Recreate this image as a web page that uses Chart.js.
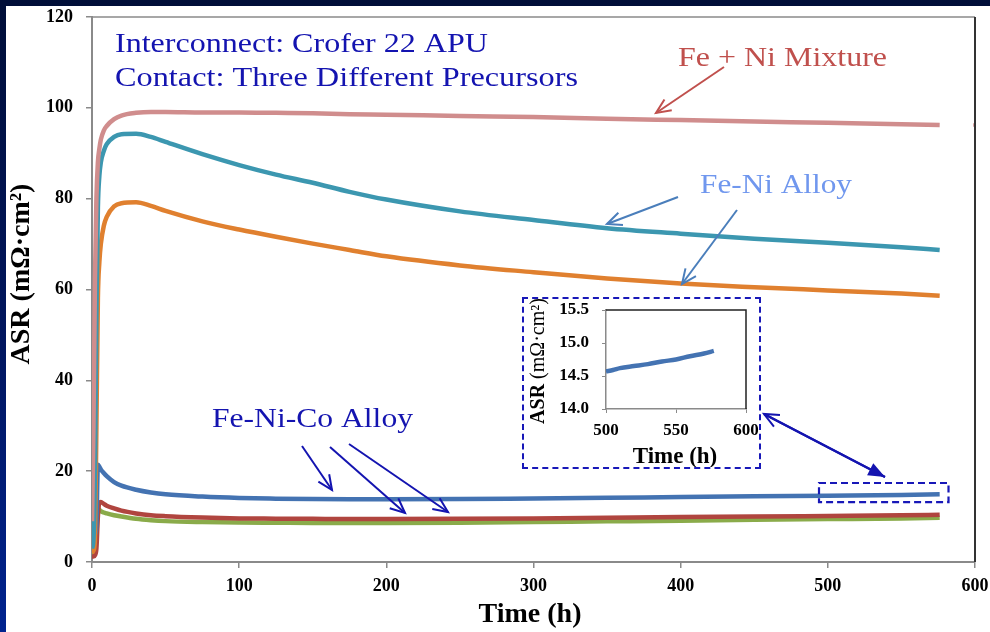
<!DOCTYPE html>
<html>
<head>
<meta charset="utf-8">
<title>ASR vs Time</title>
<script src="https://cdn.jsdelivr.net/npm/chart.js@4.4.1/dist/chart.umd.min.js"></script>
<style>
	html, body { margin: 0; padding: 0; }
	body {
		width: 990px; height: 632px; overflow: hidden; position: relative;
		background: linear-gradient(180deg, #000e38 0%, #001660 55%, #00238f 100%);
	}
	#panel { position: absolute; left: 6px; top: 6px; width: 984px; height: 626px; background: #fff; }
	#main { position: absolute; left: 0; top: 0; }
	#insetBox {
		position: absolute; left: 522px; top: 297px; width: 235px; height: 168px;
		border: 2px dashed #1818b8; background: #fff;
	}
	#inset { position: absolute; left: 0; top: 0; }
</style>
</head>
<body>
<div id="panel"></div>
<canvas id="main" width="990" height="632"></canvas>
<div id="insetBox"><canvas id="inset" width="235" height="168"></canvas></div>
<script>
// time axis (h) shared by all six traces
const hours = [0, 1, 2, 3, 4, 5, 6, 8, 10, 15, 20, 30, 40, 50, 75, 100, 125, 150, 175, 200, 250, 300, 350, 400, 450, 500, 550, 576];

// ASR (mOhm.cm2) per contact precursor
const feNiMixture = [9, 30, 62, 80, 88, 91, 93, 95, 96, 97.5, 98.3, 98.9, 99.1, 99.1, 99.0, 99.0, 98.9, 98.8, 98.6, 98.5, 98.2, 98.0, 97.6, 97.3, 97.0, 96.7, 96.4, 96.2];
const feNiAlloyA = [3, 5, 20, 55, 78, 85, 88, 90.5, 92, 93.6, 94.2, 94.3, 93.6, 92.5, 89.8, 87.4, 85.3, 83.5, 81.5, 79.8, 77.2, 75.3, 73.5, 72.3, 71.2, 70.3, 69.3, 68.7];
const feNiAlloyB = [2, 2.5, 5, 30, 58, 66, 70, 74, 76, 78.3, 79.0, 79.2, 78.4, 77.3, 75.0, 73.2, 71.6, 70.1, 68.7, 67.3, 65.3, 63.8, 62.4, 61.3, 60.5, 59.8, 59.1, 58.6];
const feNiCoA = [4, 5, 6, 8, 21.4, 21.0, 20.4, 19.6, 18.9, 17.6, 16.8, 15.9, 15.3, 14.9, 14.4, 14.1, 13.95, 13.85, 13.8, 13.8, 13.85, 14.0, 14.15, 14.3, 14.45, 14.6, 14.75, 14.9];
const feNiCoB = [1.2, 1.2, 1.5, 3, 10, 13.0, 13.2, 12.8, 12.4, 11.8, 11.3, 10.7, 10.3, 10.1, 9.8, 9.6, 9.55, 9.5, 9.45, 9.45, 9.5, 9.6, 9.75, 9.9, 10.0, 10.15, 10.3, 10.4];
const feNiCoC = [1.8, 2, 3, 6, 11.8, 11.5, 11.2, 10.9, 10.7, 10.3, 10.0, 9.5, 9.2, 9.0, 8.8, 8.7, 8.65, 8.6, 8.6, 8.6, 8.65, 8.8, 8.95, 9.1, 9.3, 9.45, 9.6, 9.75];
const mixtureLastHour = [600];
const mixtureLastAsr = [96.2];

const xTicks = [0, 100, 200, 300, 400, 500, 600];
const yTicks = [0, 20, 40, 60, 80, 100, 120];

// inset: Fe-Ni-Co trace zoomed between 500 and 600 h
const insetHours = [500, 505, 510, 520, 530, 540, 550, 560, 570, 577];
const insetAsr = [14.57, 14.59, 14.62, 14.65, 14.68, 14.72, 14.75, 14.80, 14.84, 14.88];
const insetXTicks = [500, 550, 600];
const insetYTicks = [14.0, 14.5, 15.0, 15.5];

const SERIF = "'Liberation Serif', 'Times New Roman', serif";
const pairs = (xs, ys) => xs.map((x, i) => ({ x: x, y: ys[i] }));

// fixed scale sizes; labels must not push the plot area around
function fixX(height) {
	return (s) => { s.height = height; s.paddingLeft = 0; s.paddingRight = 0; };
}
function fixY(width) {
	return (s) => { s.width = width; s.paddingTop = 0; s.paddingBottom = 0; };
}

function line(label, xs, ys, color) {
	return {
		label: label,
		data: pairs(xs, ys),
		borderColor: color,
		backgroundColor: color,
		borderWidth: 4.5,
		pointRadius: 0,
		cubicInterpolationMode: "monotone",
		fill: false,
	};
}

function arrow(ctx, x1, y1, x2, y2, color, filled) {
	const a = Math.atan2(y2 - y1, x2 - x1);
	const len = filled ? 18 : 16;
	const spread = filled ? 0.38 : 0.42;
	ctx.save();
	ctx.strokeStyle = color;
	ctx.fillStyle = color;
	ctx.lineWidth = 2;
	ctx.beginPath();
	ctx.moveTo(x1, y1);
	ctx.lineTo(x2, y2);
	ctx.stroke();
	ctx.beginPath();
	ctx.moveTo(x2 - len * Math.cos(a - spread), y2 - len * Math.sin(a - spread));
	ctx.lineTo(x2, y2);
	ctx.lineTo(x2 - len * Math.cos(a + spread), y2 - len * Math.sin(a + spread));
	if (filled) {
		ctx.closePath();
		ctx.fill();
	} else {
		ctx.stroke();
	}
	ctx.restore();
}

// text squeezed/stretched to the width it has in the figure
function fitText(ctx, text, x, y, width, color) {
	ctx.save();
	ctx.font = `28px ${SERIF}`;
	ctx.fillStyle = color;
	ctx.textBaseline = "alphabetic";
	const s = width / ctx.measureText(text).width;
	ctx.translate(x, y);
	ctx.scale(s, 1);
	ctx.fillText(text, 0, 0);
	ctx.restore();
}

const mainDecor = {
	id: "mainDecor",
	afterDraw(chart) {
		const { ctx, chartArea: a, scales } = chart;
		ctx.save();
		// frame: top grey, right dark
		ctx.lineWidth = 1.5;
		ctx.strokeStyle = "#8a8a8a";
		ctx.beginPath();
		ctx.moveTo(a.left, a.top);
		ctx.lineTo(a.right, a.top);
		ctx.stroke();
		ctx.lineWidth = 2;
		ctx.strokeStyle = "#333";
		ctx.beginPath();
		ctx.moveTo(a.right, a.top);
		ctx.lineTo(a.right, a.bottom);
		ctx.stroke();

		// axis titles
		ctx.fillStyle = "#000";
		ctx.font = `bold 28px ${SERIF}`;
		ctx.textAlign = "center";
		ctx.textBaseline = "alphabetic";
		ctx.fillText("Time (h)", 530, 622);
		ctx.translate(22, 274);
		ctx.rotate(-Math.PI / 2);
		ctx.textBaseline = "middle";
		ctx.fillText("ASR (mΩ·cm²)", 0, 0);
		ctx.restore();

		// annotations
		const navy = "#1414b0";
		fitText(ctx, "Interconnect: Crofer 22 APU", 115, 52, 373, navy);
		fitText(ctx, "Contact: Three Different Precursors", 115, 86, 463, navy);
		fitText(ctx, "Fe + Ni Mixture", 678, 66, 209, "#c0504d");
		fitText(ctx, "Fe-Ni Alloy", 700, 193, 152, "#7097ee");
		fitText(ctx, "Fe-Ni-Co Alloy", 212, 427, 201, navy);

		arrow(ctx, 724, 67, 656, 113, "#c0504d", false);
		arrow(ctx, 678, 197, 607, 224, "#4a7ebb", false);
		arrow(ctx, 737, 210, 682, 284, "#4a7ebb", false);
		arrow(ctx, 302, 446, 332, 490, navy, false);
		arrow(ctx, 330, 447, 405, 513, navy, false);
		arrow(ctx, 349, 444, 448, 512, navy, false);

		// dashed box marking the zoomed range of the upper Fe-Ni-Co trace
		const x = scales.x, y = scales.y;
		const bx1 = x.getPixelForValue(494), bx2 = x.getPixelForValue(582);
		const by1 = y.getPixelForValue(17.4), by2 = y.getPixelForValue(13.2);
		ctx.save();
		ctx.strokeStyle = "#1818b8";
		ctx.lineWidth = 2.2;
		ctx.setLineDash([7, 4]);
		ctx.strokeRect(bx1, by1, bx2 - bx1, by2 - by1);
		ctx.restore();

		arrow(ctx, 885, 477, 764, 414, navy, false);
		arrow(ctx, 764, 414, 885, 477, navy, true);
	},
};

const tickFont = { family: SERIF, size: 18, weight: "bold" };

new Chart(document.getElementById("main"), {
	type: "line",
	data: {
		datasets: [
			line("Fe + Ni Mixture", hours, feNiMixture, "#d08d8d"),
			{
				label: "Fe + Ni Mixture (last)",
				data: pairs(mixtureLastHour, mixtureLastAsr),
				showLine: false,
				pointStyle: "rect",
				pointRadius: 2.5,
				borderWidth: 0,
				backgroundColor: "#d08d8d",
			},
			line("Fe-Ni Alloy A", hours, feNiAlloyA, "#3c97b0"),
			line("Fe-Ni Alloy B", hours, feNiAlloyB, "#e0802f"),
			line("Fe-Ni-Co Alloy A", hours, feNiCoA, "#4473b2"),
			line("Fe-Ni-Co Alloy B", hours, feNiCoB, "#b0453f"),
			line("Fe-Ni-Co Alloy C", hours, feNiCoC, "#8aab4a"),
		],
	},
	options: {
		responsive: false,
		animation: false,
		layout: { padding: { top: 17, right: 15, left: 0, bottom: 0 } },
		plugins: { legend: { display: false }, tooltip: { enabled: false } },
		scales: {
			x: {
				type: "linear",
				min: 0,
				max: 600,
				afterBuildTicks: (s) => { s.ticks = xTicks.map((v) => ({ value: v })); },
				afterFit: fixX(70),
				ticks: { font: tickFont, color: "#000", padding: 8, maxRotation: 0 },
				grid: { drawOnChartArea: false, drawTicks: true, tickLength: 6, color: "#8a8a8a", lineWidth: 1.5 },
				border: { color: "#8a8a8a", width: 2 },
			},
			y: {
				min: 0,
				max: 120,
				afterBuildTicks: (s) => { s.ticks = yTicks.map((v) => ({ value: v })); },
				afterFit: fixY(92),
				ticks: { font: tickFont, color: "#000", padding: 13 },
				grid: { drawOnChartArea: false, drawTicks: true, tickLength: 6, color: "#8a8a8a", lineWidth: 1.5 },
				border: { color: "#8a8a8a", width: 2 },
			},
		},
	},
	plugins: [mainDecor],
});

const insetDecor = {
	id: "insetDecor",
	afterDraw(chart) {
		const { ctx, chartArea: a } = chart;
		ctx.save();
		ctx.lineWidth = 1.5;
		ctx.strokeStyle = "#222";
		ctx.beginPath();
		ctx.moveTo(a.left, a.top);
		ctx.lineTo(a.right, a.top);
		ctx.lineTo(a.right, a.bottom);
		ctx.stroke();

		ctx.fillStyle = "#000";
		ctx.textAlign = "center";
		ctx.font = `bold 23px ${SERIF}`;
		ctx.fillText("Time (h)", 151, 164);

		// rotated y title: "ASR" bold, unit normal
		ctx.translate(15, 62);
		ctx.rotate(-Math.PI / 2);
		ctx.textBaseline = "middle";
		ctx.textAlign = "left";
		const boldF = `bold 20px ${SERIF}`, normF = `20px ${SERIF}`;
		ctx.font = boldF;
		const w1 = ctx.measureText("ASR").width;
		ctx.font = normF;
		const w2 = ctx.measureText(" (mΩ·cm²)").width;
		const start = -(w1 + w2) / 2;
		ctx.font = boldF;
		ctx.fillText("ASR", start, 0);
		ctx.font = normF;
		ctx.fillText(" (mΩ·cm²)", start + w1, 0);
		ctx.restore();
	},
};

const insetTickFont = { family: SERIF, size: 17, weight: "bold" };

new Chart(document.getElementById("inset"), {
	type: "line",
	data: {
		datasets: [
			{
				label: "Fe-Ni-Co Alloy A",
				data: pairs(insetHours, insetAsr),
				borderColor: "#4473b2",
				borderWidth: 4.5,
				pointRadius: 0,
				cubicInterpolationMode: "monotone",
			},
		],
	},
	options: {
		responsive: false,
		animation: false,
		layout: { padding: { top: 11, right: 13, left: 0, bottom: 0 } },
		plugins: { legend: { display: false }, tooltip: { enabled: false } },
		scales: {
			x: {
				type: "linear",
				min: 500,
				max: 600,
				afterBuildTicks: (s) => { s.ticks = insetXTicks.map((v) => ({ value: v })); },
				afterFit: fixX(58),
				ticks: { font: insetTickFont, color: "#000", padding: 7, maxRotation: 0 },
				grid: { drawOnChartArea: false, drawTicks: true, tickLength: 4, color: "#8a8a8a" },
				border: { color: "#8a8a8a", width: 1.5 },
			},
			y: {
				min: 14.0,
				max: 15.5,
				afterBuildTicks: (s) => { s.ticks = insetYTicks.map((v) => ({ value: v })); },
				afterFit: fixY(82),
				ticks: {
					font: insetTickFont,
					color: "#000",
					padding: 13,
					callback: (v) => Number(v).toFixed(1),
				},
				grid: { drawOnChartArea: false, drawTicks: true, tickLength: 4, color: "#8a8a8a" },
				border: { color: "#8a8a8a", width: 1.5 },
			},
		},
	},
	plugins: [insetDecor],
});
</script>
</body>
</html>
